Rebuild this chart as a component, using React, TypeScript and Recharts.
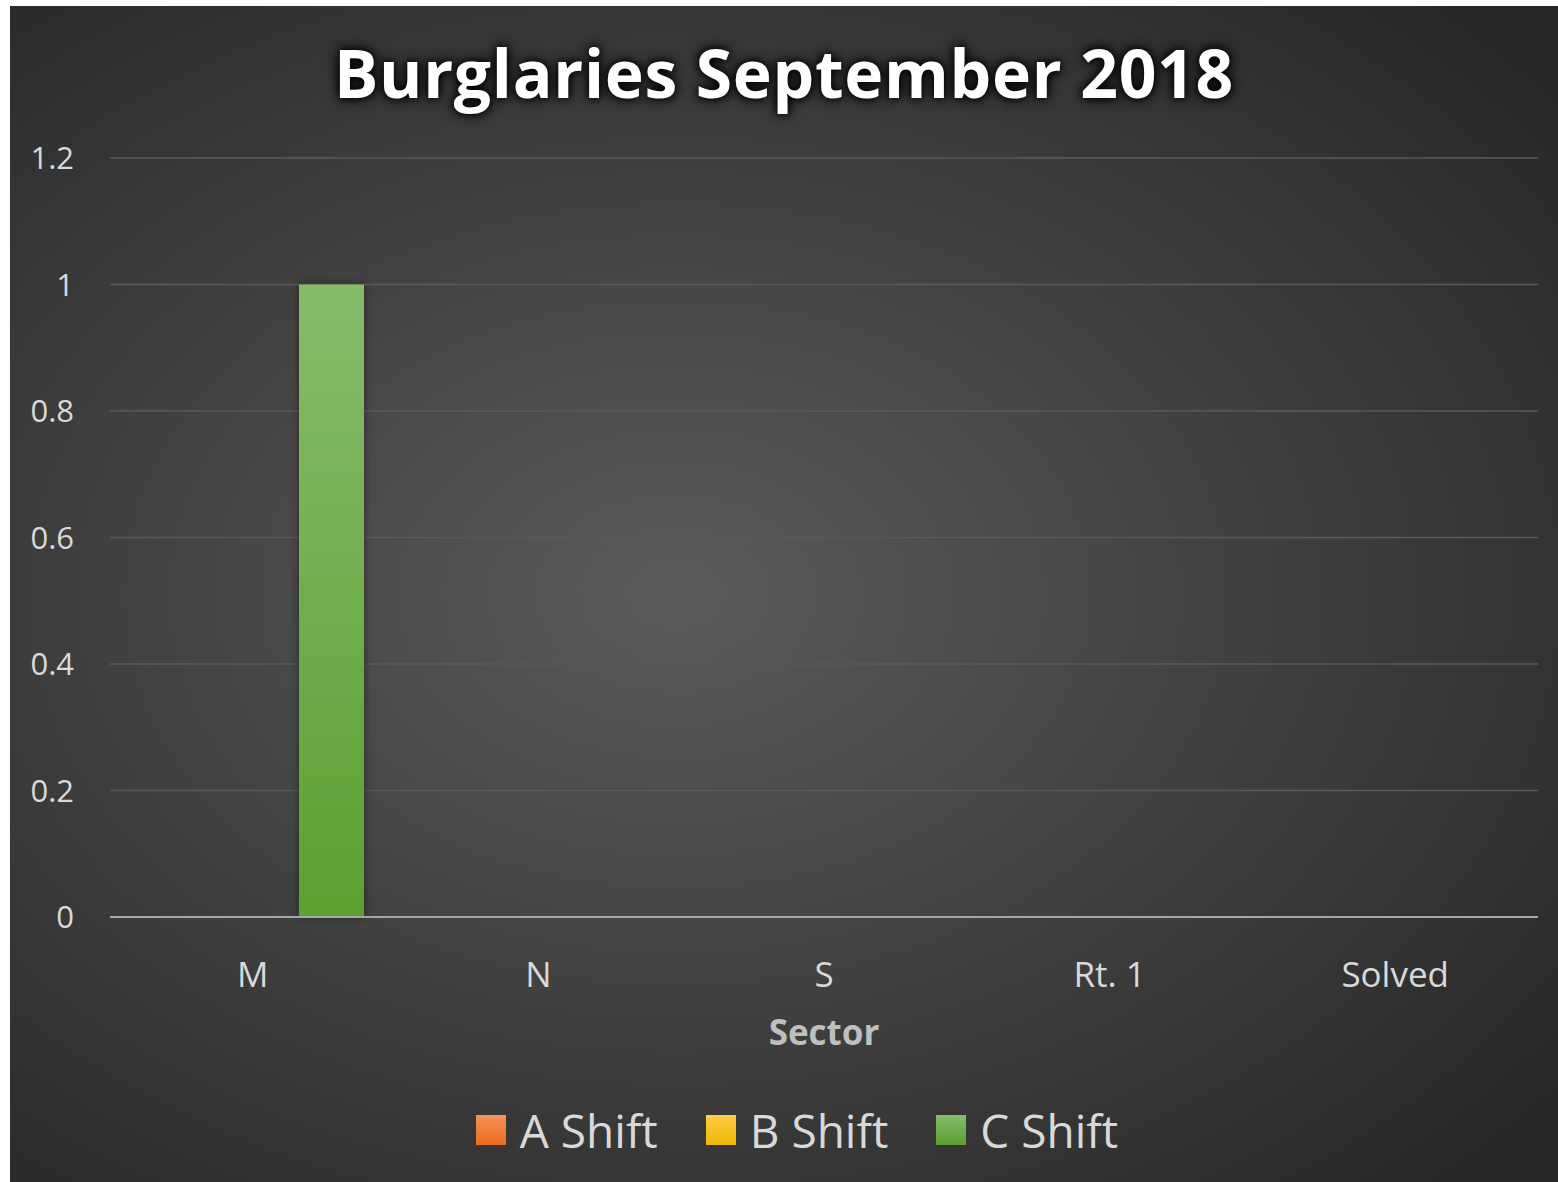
import { BarChart, Bar, XAxis, YAxis, CartesianGrid, Legend } from 'recharts';

const sectors = ['M', 'N', 'S', 'Rt. 1', 'Solved'];
const aShift = [0, 0, 0, 0, 0];
const bShift = [0, 0, 0, 0, 0];
const cShift = [1, 0, 0, 0, 0];
const yTicks = [0, 0.2, 0.4, 0.6, 0.8, 1, 1.2];

const SERIES = [
  { key: 'a', name: 'A Shift', top: '#f4925c', bottom: '#ec6b1c' },
  { key: 'b', name: 'B Shift', top: '#ffcd48', bottom: '#efb600' },
  { key: 'c', name: 'C Shift', top: '#86bc6c', bottom: '#5da031' },
];

const data = sectors.map((sector, i) => ({
  sector,
  a: aShift[i],
  b: bShift[i],
  c: cShift[i],
}));

const FONT = '"Open Sans", "Noto Sans", sans-serif';
const W = 1548;
const H = 1176;
const LEGEND_H = 46;

const LegendBox = () => (
  <div
    style={{
      display: 'flex',
      justifyContent: 'center',
      alignItems: 'center',
      height: LEGEND_H,
      paddingLeft: 26,
      fontFamily: FONT,
    }}
  >
    {SERIES.map((s, i) => (
      <div key={s.key} style={{ display: 'flex', alignItems: 'center', marginLeft: i ? 48 : 0 }}>
        <span
          style={{
            width: 30,
            height: 30,
            display: 'inline-block',
            background: `linear-gradient(${s.top}, ${s.bottom})`,
            marginRight: 14,
          }}
        />
        <span style={{ color: '#d9d9d9', fontSize: 46, lineHeight: 1 }}>{s.name}</span>
      </div>
    ))}
  </div>
);

const AxisTitle = ({ viewBox }: any) => (
  <text
    x={viewBox.x + viewBox.width / 2}
    y={viewBox.y + 116}
    dy="0.35em"
    textAnchor="middle"
    fill="#bfbfbf"
    fontSize={35}
    fontWeight="bold"
    fontFamily={FONT}
  >
    Sector
  </text>
);

export default function App() {
  return (
    <div
      style={{
        position: 'absolute',
        left: 10,
        top: 6,
        width: W,
        height: H,
        background: 'radial-gradient(ellipse 75% 70% at 43% 50%, #5b5b5b 0%, #404040 50%, #262626 100%)',
        fontFamily: FONT,
      }}
    >
      <div
        style={{
          position: 'absolute',
          left: 0,
          top: 33,
          width: W,
          textAlign: 'center',
          color: '#ffffff',
          fontSize: 66,
          fontWeight: 'bold',
          lineHeight: 1,
          letterSpacing: 0.7,
          textShadow: '0 0 8px #000, 0 0 14px #000',
          zIndex: 2,
        }}
      >
        Burglaries September 2018
      </div>
      <BarChart
        width={W}
        height={H}
        data={data}
        margin={{ top: 152, right: 20, left: 0, bottom: 0 }}
        barSize={65}
        barGap={14}
      >
        <defs>
          {SERIES.map((s) => (
            <linearGradient key={s.key} id={`grad-${s.key}`} x1="0" y1="0" x2="0" y2="1">
              <stop offset="0%" stopColor={s.top} />
              <stop offset="100%" stopColor={s.bottom} />
            </linearGradient>
          ))}
          <filter id="barShadow" x="-30%" y="-5%" width="160%" height="110%">
            <feDropShadow dx="0" dy="0" stdDeviation="5" floodColor="#000" floodOpacity="0.45" />
          </filter>
        </defs>
        <CartesianGrid vertical={false} stroke="#5a5a5a" strokeWidth={1.5} />
        <XAxis
          dataKey="sector"
          height={265 - LEGEND_H}
          tick={{ fill: '#d9d9d9', fontSize: 35, fontFamily: FONT }}
          tickLine={false}
          tickSize={0}
          tickMargin={45}
          axisLine={{ stroke: '#a6a6a6', strokeWidth: 2 }}
          label={<AxisTitle />}
        />
        <YAxis
          width={100}
          domain={[0, 1.2]}
          ticks={yTicks}
          tick={{ fill: '#d9d9d9', fontSize: 31, fontFamily: FONT }}
          tickLine={false}
          tickSize={0}
          tickMargin={36}
          axisLine={false}
        />
        <Legend
          content={<LegendBox />}
          wrapperStyle={{ position: 'absolute', left: 0, top: 1101, width: W, height: LEGEND_H }}
        />
        {SERIES.map((s) => (
          <Bar
            key={s.key}
            dataKey={s.key}
            name={s.name}
            fill={`url(#grad-${s.key})`}
            filter="url(#barShadow)"
            isAnimationActive={false}
          />
        ))}
      </BarChart>
    </div>
  );
}
